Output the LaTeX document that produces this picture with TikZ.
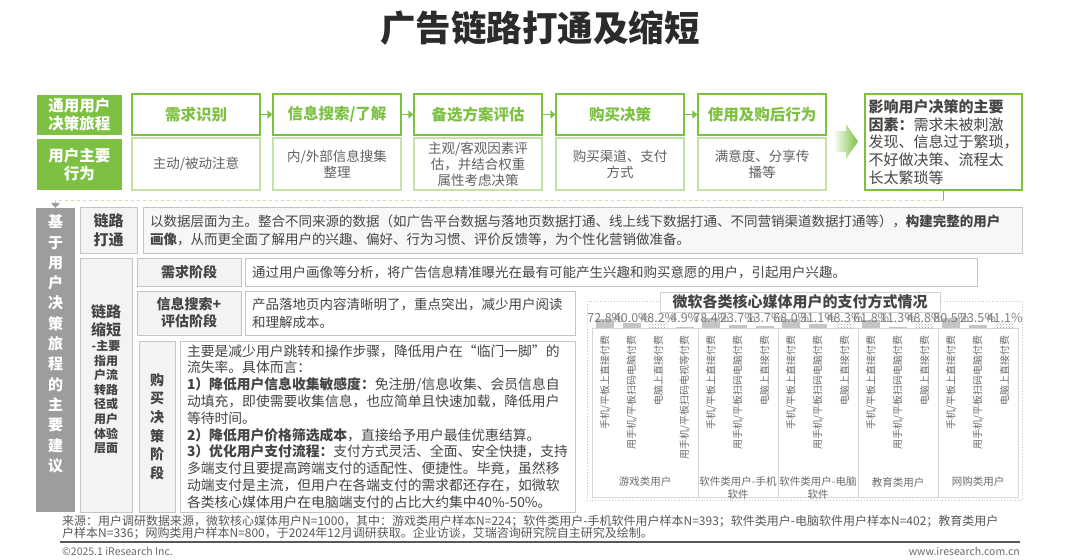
\documentclass[tikz,border=0pt]{standalone}
\usepackage{fontspec}
\setmainfont{Noto Sans CJK SC}
\usetikzlibrary{arrows.meta,patterns,positioning}

\definecolor{irgreen}{HTML}{7DC142}
\definecolor{irlight}{HTML}{C3E2A8}
\definecolor{irgray}{HTML}{9D9D9D}
\definecolor{irline}{HTML}{C4C4C4}
\definecolor{irfill}{HTML}{F3F3F3}
\definecolor{irtext}{HTML}{454545}
\definecolor{irtitle}{HTML}{2B2B2B}

\newcommand{\fsz}[2]{\fontsize{#1}{#2}\selectfont}

\tikzset{
  greenlab/.style={fill=irgreen, text=white, align=center, inner sep=0pt,
    font=\bfseries\fsz{15.5}{18}},
  stagehead/.style={draw=irgreen, line width=1.2pt, fill=white, text=irgreen,
    inner sep=0pt, font=\bfseries\fsz{15.5}{18}},
  stagebody/.style={draw=irlight, line width=1.2pt, fill=white, text=irtext!85,
    align=center, inner sep=0pt, font=\fsz{13.5}{16}},
  graybox/.style={draw=irline, line width=1pt, fill=irfill, text=irtext,
    align=center, inner sep=0pt},
  textbox/.style={draw=irline, line width=1pt, fill=white, text=irtext,
    align=left, inner xsep=7pt, inner ysep=0pt, font=\fsz{13.5}{18}},
  flow/.style={irgreen, line width=1.5pt, -{Triangle[length=5pt,width=8pt]}},
  vallab/.style={text=irtext!70, font=\fsz{12.5}{14}, inner sep=0pt},
  catlab/.style={text=irtext!80, font=\fsz{10}{12}, rotate=90, anchor=east, inner sep=0pt},
  grouplab/.style={text=irtext!80, font=\fsz{10.5}{12.5}, align=center, inner sep=0pt}
}

\begin{document}
\begin{tikzpicture}[x=1pt,y=-1pt]
  \useasboundingbox (0,0) rectangle (1080,560);

  % title
  \node[font=\bfseries\fsz{35.5}{40}, text=irtitle] (title) at (540,28) {广告链路打通及缩短};

  % user journey
  \node[greenlab, minimum width=85, minimum height=40] (journey) at (79.5,115) {通用用户\\决策旅程};
  \node[greenlab, minimum width=85, minimum height=51] (behave) at (79.5,164.5) {用户主要\\行为};

  \node[stagehead, minimum width=128, minimum height=41] (need) at (196,114.5) {需求识别};
  \node[stagehead, minimum width=128, minimum height=41] (search) at (337,114.5) {信息搜索/了解};
  \node[stagehead, minimum width=128, minimum height=41] (eval) at (478,114.5) {备选方案评估};
  \node[stagehead, minimum width=128, minimum height=41] (buy) at (620,114.5) {购买决策};
  \node[stagehead, minimum width=128, minimum height=41] (post) at (762,114.5) {使用及购后行为};

  \node[stagebody, minimum width=128, minimum height=52] (needb) at (196,164) {主动/被动注意};
  \node[stagebody, minimum width=128, minimum height=52] (searchb) at (337,164) {内/外部信息搜集\\整理};
  \node[stagebody, minimum width=128, minimum height=52] (evalb) at (478,164) {主观/客观因素评\\估，并结合权重\\属性考虑决策};
  \node[stagebody, minimum width=128, minimum height=52] (buyb) at (620,164) {购买渠道、支付\\方式};
  \node[stagebody, minimum width=128, minimum height=52] (postb) at (762,164) {满意度、分享传\\播等};

  \draw[flow] (need) -- (search);
  \draw[flow] (search) -- (eval);
  \draw[flow] (eval) -- (buy);
  \draw[flow] (buy) -- (post);

  \shade[left color=irgreen!8, right color=irgreen]
    (835,131) -- (846,131) -- (846,124) -- (858,141.5) -- (846,159) -- (846,152) -- (835,152) -- cycle;

  \node[draw=irgreen, line width=1.5pt, fill=white, minimum width=157, minimum height=96,
    text width=150, inner xsep=3pt, align=left, text=irtext, font=\fsz{15}{17.8}] (factor) at (943.5,142)
    {{\bfseries 影响用户决策的主要}\\{\bfseries 因素：}需求未被刺激\\发现、信息过于繁琐，\\不好做决策、流程太\\长太繁琐等};

  % main suggestions
  \node[fill=irgray, minimum width=39, minimum height=304] (advice) at (55.5,360) {};
  \node[text=white, font=\bfseries\fsz{15}{20.3}, align=center] (advicetxt) at (55.5,344)
    {基\\于\\用\\户\\决\\策\\旅\\程\\的\\主\\要\\建\\议};

  \coordinate (turn) at (943.5,200);
  \draw[irgreen, line width=0.8pt] (factor) -- (turn);
  \draw[irlight, line width=0.8pt, dashed, -{Triangle[length=5pt,width=9pt,color=irgray]}] (turn) -| (advice);

  \node[graybox, minimum width=57, minimum height=46, font=\bfseries\fsz{15}{19}] (linklab) at (108.5,230) {链路\\打通};
  \node[textbox, fill=irfill!70, minimum width=879, minimum height=46, text width=865] (linktxt) at (582.5,230)
    {以数据层面为主。整合不同来源的数据（如广告平台数据与落地页数据打通、线上线下数据打通、不同营销渠道数据打通等），{\bfseries 构建完整的用户}\\{\bfseries 画像}，从而更全面了解用户的兴趣、偏好、行为习惯、评价反馈等，为个性化营销做准备。};

  \node[graybox, minimum width=52, minimum height=254] (shortlab) at (106,385) {};
  \node[text=irtext, font=\bfseries\fsz{15}{18}, align=center] (shorttitle) at (106,321) {链路\\缩短};
  \node[text=irtext, font=\bfseries\fsz{12}{14.6}, align=center] (shortnote) at (106,397)
    {-主要\\指用\\户流\\转路\\径或\\用户\\体验\\层面};

  \node[graybox, minimum width=104, minimum height=28, font=\bfseries\fsz{14}{17}] (needlab) at (189,272) {需求阶段};
  \node[textbox, minimum width=732, minimum height=28, text width=718] (needtxt) at (611,272)
    {通过用户画像等分析，将广告信息精准曝光在最有可能产生兴趣和购买意愿的用户，引起用户兴趣。};

  \node[graybox, minimum width=104, minimum height=44, font=\bfseries\fsz{14}{17}] (searchlab) at (189,313) {信息搜索+\\评估阶段};
  \node[textbox, minimum width=330, minimum height=44, text width=316] (searchtxt) at (410,313)
    {产品落地页内容清晰明了，重点突出，减少用户阅读\\和理解成本。};

  \node[graybox, minimum width=36, minimum height=171, font=\bfseries\fsz{14}{18.6}] (buylab) at (157,426.5) {购\\买\\决\\策\\阶\\段};
  \node[textbox, minimum width=395, minimum height=171, text width=381, font=\fsz{13.8}{16.8}] (buytxt) at (377.5,426.5)
    {主要是减少用户跳转和操作步骤，降低用户在“临门一脚”的\\
     流失率。具体而言：\\
     {\bfseries 1）降低用户信息收集敏感度：}免注册/信息收集、会员信息自\\
     动填充，即使需要收集信息，也应简单且快速加载，降低用户\\
     等待时间。\\
     {\bfseries 2）降低用户价格筛选成本}，直接给予用户最佳优惠结算。\\
     {\bfseries 3）优化用户支付流程：}支付方式灵活、全面、安全快捷，支持\\
     多端支付且要提高跨端支付的适配性、便捷性。毕竟，虽然移\\
     动端支付是主流，但用户在各端支付的需求都还存在，如微软\\
     各类核心媒体用户在电脑端支付的占比大约集中40\%-50\%。};

  % payment chart
  \draw[irline, dotted, line width=0.8pt] (587,301) rectangle (1022,500);
  \draw[irline!70, line width=1pt] (592,328) rectangle (1018,497);
  \foreach \sx in {698,778,858,938}
    \draw[irline!70, line width=1pt] (\sx,328) -- (\sx,497);

  \foreach \bx/\bv in {605.3/72.8,631.8/40.0,684.8/4.9,711.3/78.4,738/23.7,764.7/13.7,
      791.3/68.0,818/31.1,871.3/61.8,898/11.3,951.3/80.5,978/23.5}
    \fill[irgray!60] (\bx-9,328) rectangle (\bx+9,328-0.13*\bv);
  \foreach \bx/\bv in {658.3/48.2,844.7/48.3,924.7/48.8,1004.7/41.1}
    \fill[pattern=crosshatch dots, pattern color=irgray] (\bx-9,328) rectangle (\bx+9,328-0.13*\bv);

  \foreach \bx/\bv [count=\i] in {605.3/72.8,631.8/40.0,658.3/48.2,684.8/4.9,711.3/78.4,738/23.7,764.7/13.7,
      791.3/68.0,818/31.1,844.7/48.3,871.3/61.8,898/11.3,924.7/48.8,951.3/80.5,978/23.5,1004.7/41.1}
    \node[vallab] (val\i) at (\bx,318) {\bv\%};

  \foreach \lx/\lt [count=\i] in {605.3/{手机/平板上直接付费},631.8/{用手机/平板扫码电脑付费},658.3/{电脑上直接付费},
      684.8/{用手机/平板扫码电视等付费},711.3/{手机/平板上直接付费},738/{用手机/平板扫码电脑付费},764.7/{电脑上直接付费},
      791.3/{手机/平板上直接付费},818/{用手机/平板扫码电脑付费},844.7/{电脑上直接付费},
      871.3/{手机/平板上直接付费},898/{用手机/平板扫码电脑付费},924.7/{电脑上直接付费},
      951.3/{手机/平板上直接付费},978/{用手机/平板扫码电脑付费},1004.7/{电脑上直接付费}}
    \node[catlab] (cat\i) at (\lx,335) {\lt};

  \node[grouplab] (game) at (645,482) {游戏类用户};
  \node[grouplab] (softm) at (738,488) {软件类用户-手机\\软件};
  \node[grouplab] (softp) at (818,488) {软件类用户-电脑\\软件};
  \node[grouplab] (edu) at (898,482) {教育类用户};
  \node[grouplab] (shop) at (978,482) {网购类用户};

  \node[draw=irline!80, line width=1pt, fill=white, minimum width=280, minimum height=20, inner sep=0pt,
    text=irtext, font=\bfseries\fsz{15}{17}] (charttitle) at (800,302) {微软各类核心媒体用户的支付方式情况};

  % source and footer
  \node[anchor=west, inner sep=0pt, text=irtext!90, font=\fsz{12}{14}] (src1) at (62,521)
    {来源：用户调研数据来源，微软核心媒体用户N=1000，其中：游戏类用户样本N=224；软件类用户-手机软件用户样本N=393；软件类用户-电脑软件用户样本N=402；教育类用户};
  \node[anchor=west, inner sep=0pt, text=irtext!90, font=\fsz{12}{14}] (src2) at (62,533)
    {户样本N=336；网购类用户样本N=800，于2024年12月调研获取。企业访谈，艾瑞咨询研究院自主研究及绘制。};
  \draw[irtext!90, line width=1.2pt] (60,542) -- (1020,542);
  \node[anchor=west, inner sep=0pt, text=irtext!80, font=\fsz{10.5}{12}] (copy) at (62,551) {©2025.1 iResearch Inc.};
  \node[anchor=east, inner sep=0pt, text=irtext!80, font=\fsz{10.5}{12}] (site) at (1020,551) {www.iresearch.com.cn};
\end{tikzpicture}
\end{document}
